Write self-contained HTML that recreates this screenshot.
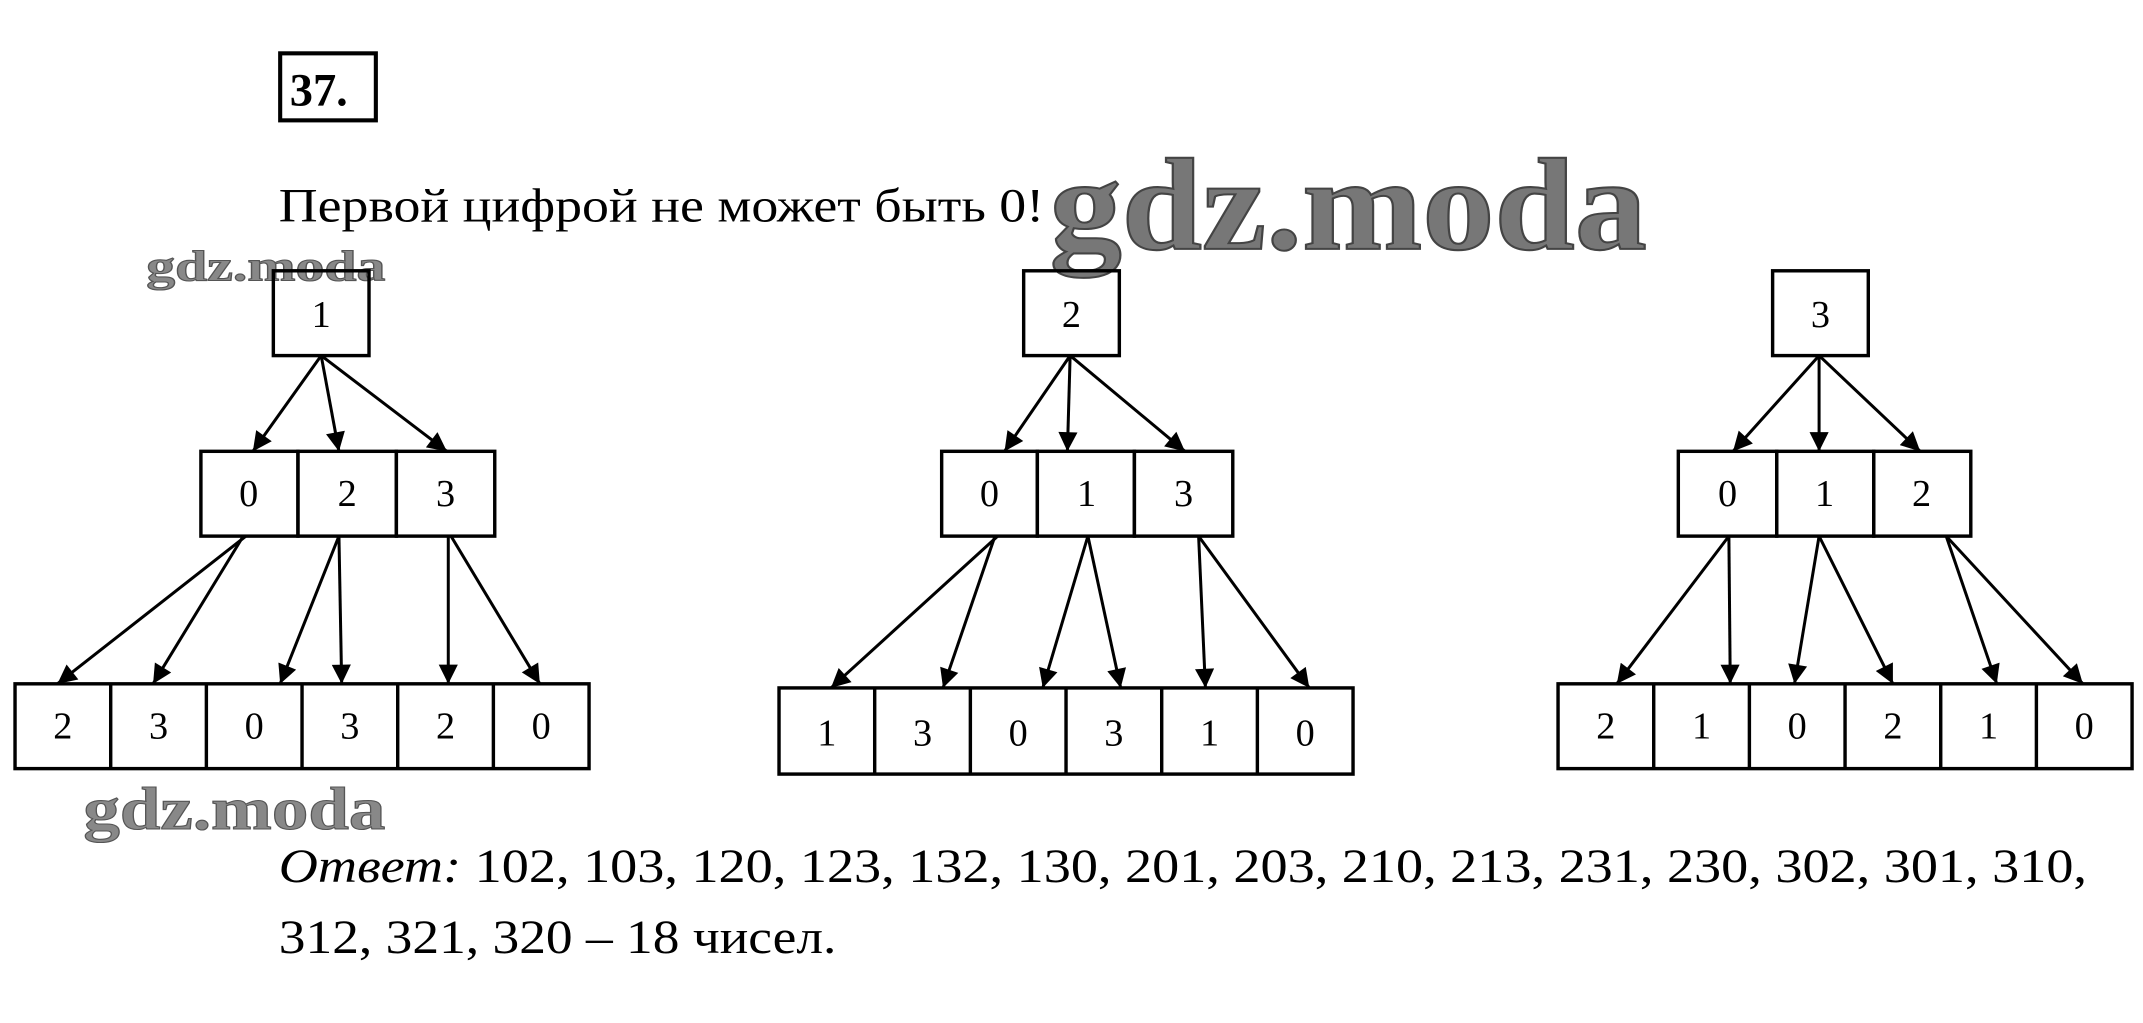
<!DOCTYPE html>
<html><head><meta charset="utf-8"><style>
html,body{margin:0;padding:0;background:#fff;}
svg{display:block;}
text{font-family:"Liberation Serif","DejaVu Serif",serif;}
</style></head><body>
<svg width="2143" height="1023" viewBox="0 0 1568 748" preserveAspectRatio="none" xmlns="http://www.w3.org/2000/svg">
<defs>
<marker id="b" viewBox="0 0 10 10" refX="10" refY="5" markerWidth="16" markerHeight="14" markerUnits="userSpaceOnUse" orient="auto"><path d="M0,0 L10,5 L0,10 z" fill="#000"/></marker>
</defs>
<rect x="205" y="39" width="70" height="49" fill="none" stroke="#000" stroke-width="3"/>
<text x="212" y="77" font-size="34" font-weight="bold">37.</text>
<text x="204" y="162" font-size="35" textLength="560" lengthAdjust="spacingAndGlyphs">Первой цифрой не может быть 0!</text>
<text x="768" y="182" font-size="96" font-weight="bold" fill="#777" stroke="#444" stroke-width="1.5" textLength="437" lengthAdjust="spacingAndGlyphs">gdz.moda</text>
<text x="107" y="205" font-size="32" font-weight="bold" fill="#888" stroke="#555" stroke-width="0.8" textLength="175" lengthAdjust="spacingAndGlyphs">gdz.moda</text>
<text x="61" y="606" font-size="44" font-weight="bold" fill="#888" stroke="#555" stroke-width="0.8" textLength="221" lengthAdjust="spacingAndGlyphs">gdz.moda</text>
<g fill="none" stroke="#000" stroke-width="2.5">
<rect x="200" y="198" width="70" height="62"/>
<rect x="147" y="330" width="71" height="62"/><rect x="218" y="330" width="72" height="62"/><rect x="290" y="330" width="72" height="62"/>
<rect x="11" y="500" width="420" height="62"/>
<line x1="81" y1="500" x2="81" y2="562"/><line x1="151" y1="500" x2="151" y2="562"/><line x1="221" y1="500" x2="221" y2="562"/><line x1="291" y1="500" x2="291" y2="562"/><line x1="361" y1="500" x2="361" y2="562"/>
<rect x="749" y="198" width="70" height="62"/>
<rect x="689" y="330" width="70" height="62"/><rect x="759" y="330" width="71" height="62"/><rect x="830" y="330" width="72" height="62"/>
<rect x="570" y="503" width="420" height="63"/>
<line x1="640" y1="503" x2="640" y2="566"/><line x1="710" y1="503" x2="710" y2="566"/><line x1="780" y1="503" x2="780" y2="566"/><line x1="850" y1="503" x2="850" y2="566"/><line x1="920" y1="503" x2="920" y2="566"/>
<rect x="1297" y="198" width="70" height="62"/>
<rect x="1228" y="330" width="72" height="62"/><rect x="1300" y="330" width="71" height="62"/><rect x="1371" y="330" width="71" height="62"/>
<rect x="1140" y="500" width="420" height="62"/>
<line x1="1210" y1="500" x2="1210" y2="562"/><line x1="1280" y1="500" x2="1280" y2="562"/><line x1="1350" y1="500" x2="1350" y2="562"/><line x1="1420" y1="500" x2="1420" y2="562"/><line x1="1490" y1="500" x2="1490" y2="562"/>
</g>
<g stroke="#000" stroke-width="2.2" marker-end="url(#b)">
<line x1="235" y1="260" x2="185" y2="330"/><line x1="235" y1="260" x2="248" y2="330"/><line x1="235" y1="260" x2="327" y2="330"/>
<line x1="180" y1="392" x2="42" y2="500"/><line x1="178" y1="392" x2="112" y2="500"/>
<line x1="248" y1="392" x2="205" y2="500"/><line x1="248" y1="392" x2="250" y2="500"/>
<line x1="328" y1="392" x2="328" y2="500"/><line x1="330" y1="392" x2="395" y2="500"/>
<line x1="783" y1="260" x2="735" y2="330"/><line x1="783" y1="260" x2="781" y2="330"/><line x1="783" y1="260" x2="867" y2="330"/>
<line x1="730" y1="392" x2="608" y2="503"/><line x1="728" y1="392" x2="690" y2="503"/>
<line x1="796" y1="392" x2="763" y2="503"/><line x1="796" y1="392" x2="820" y2="503"/>
<line x1="877" y1="392" x2="882" y2="503"/><line x1="877" y1="392" x2="958" y2="503"/>
<line x1="1331" y1="260" x2="1268" y2="330"/><line x1="1331" y1="260" x2="1331" y2="330"/><line x1="1331" y1="260" x2="1405" y2="330"/>
<line x1="1265" y1="392" x2="1183" y2="500"/><line x1="1265" y1="392" x2="1266" y2="500"/>
<line x1="1331" y1="392" x2="1313" y2="500"/><line x1="1331" y1="392" x2="1385" y2="500"/>
<line x1="1424" y1="392" x2="1461" y2="500"/><line x1="1424" y1="392" x2="1524" y2="500"/>
</g>
<g font-size="28" text-anchor="middle">
<text x="235" y="239">1</text><text x="784" y="239">2</text><text x="1332" y="239">3</text>
<text x="182" y="370">0</text><text x="254" y="370">2</text><text x="326" y="370">3</text>
<text x="724" y="370">0</text><text x="795" y="370">1</text><text x="866" y="370">3</text>
<text x="1264" y="370">0</text><text x="1335" y="370">1</text><text x="1406" y="370">2</text>
<text x="46" y="540">2</text><text x="116" y="540">3</text><text x="186" y="540">0</text><text x="256" y="540">3</text><text x="326" y="540">2</text><text x="396" y="540">0</text>
<text x="605" y="545">1</text><text x="675" y="545">3</text><text x="745" y="545">0</text><text x="815" y="545">3</text><text x="885" y="545">1</text><text x="955" y="545">0</text>
<text x="1175" y="540">2</text><text x="1245" y="540">1</text><text x="1315" y="540">0</text><text x="1385" y="540">2</text><text x="1455" y="540">1</text><text x="1525" y="540">0</text>
</g>
<text x="204" y="645" font-size="35" textLength="1323" lengthAdjust="spacingAndGlyphs"><tspan font-style="italic">Ответ:</tspan> 102, 103, 120, 123, 132, 130, 201, 203, 210, 213, 231, 230, 302, 301, 310,</text>
<text x="204" y="697" font-size="35" textLength="408" lengthAdjust="spacingAndGlyphs">312, 321, 320 – 18 чисел.</text>
</svg>
</body></html>
